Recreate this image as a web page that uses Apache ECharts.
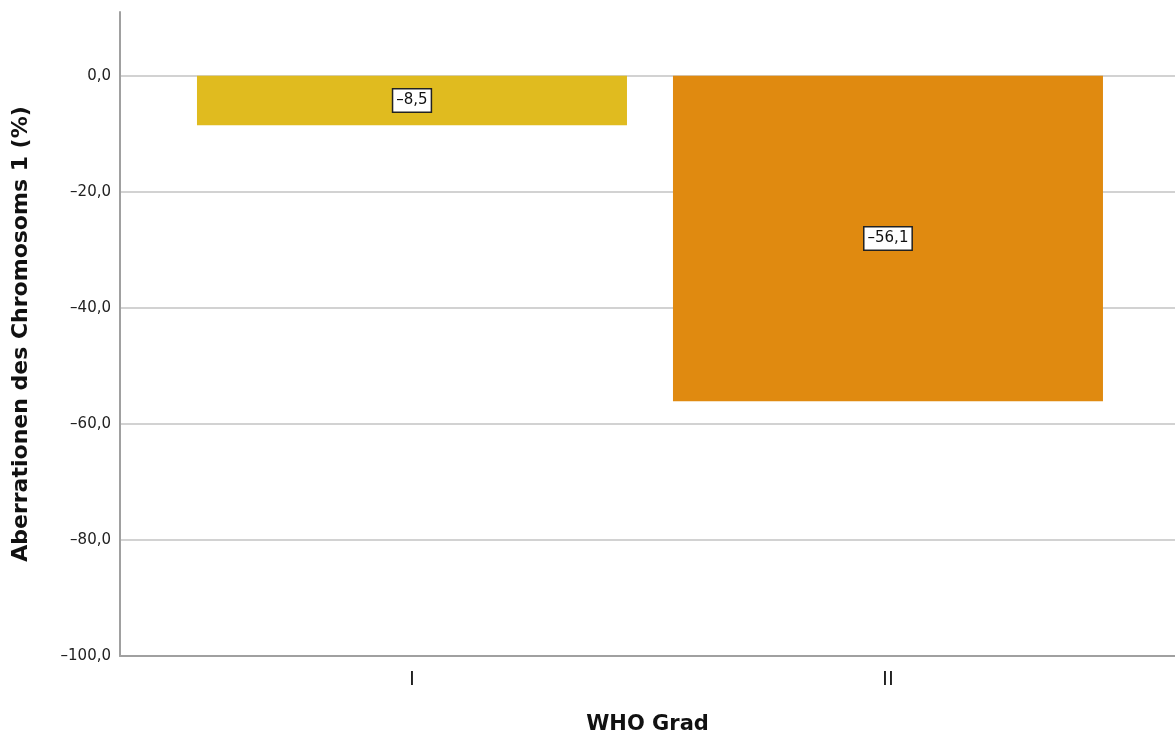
<!DOCTYPE html>
<html>
<head>
<meta charset="utf-8">
<script src="https://cdn.jsdelivr.net/npm/echarts@6/dist/echarts.min.js"></script>
<style>
  html, body { margin: 0; padding: 0; background: #fff; }
  #chart { width: 1175px; height: 738px; }
</style>
</head>
<body>
<div id="chart"></div>
<script>
// WHO grade categories and mean chromosome 1 aberrations (%)
const categories = ['I', 'II'];
const values = [-8.5, -56.1];
const barColors = ['#E0BB1F', '#E08A10'];
const yTicks = [-100, -80, -60, -40, -20, 0];

const fmt = v => v.toFixed(1).replace('.', ',').replace('-', '\u2013');

const chart = echarts.init(document.getElementById('chart'));
const positions = categories.map((c, i) => i + 1);

chart.setOption({
  animation: false,
  backgroundColor: '#ffffff',
  grid: { left: 120, right: 0, top: 12, bottom: 82, outerBoundsMode: 'none', containLabel: false },
  xAxis: {
    type: 'value',
    min: 0.3866,
    max: 2.603,
    name: 'WHO Grad',
    nameLocation: 'middle',
    nameGap: 58,
    nameTextStyle: { fontFamily: 'DejaVu Sans', fontWeight: 'bold', fontSize: 21, color: '#111' },
    axisLine: { show: true, onZero: false, lineStyle: { color: '#a0a0a0', width: 2 } },
    axisTick: { show: false },
    splitLine: { show: false },
    axisLabel: {
      customValues: positions,
      formatter: v => categories[Math.round(v) - 1] || '',
      fontFamily: 'DejaVu Sans',
      fontSize: 20,
      color: '#222',
      margin: 14
    }
  },
  yAxis: {
    type: 'value',
    min: yTicks[0],
    max: 11,
    interval: 20,
    name: 'Aberrationen des Chromosoms 1 (%)',
    nameLocation: 'middle',
    nameGap: 88,
    nameTextStyle: { fontFamily: 'DejaVu Sans', fontWeight: 'bold', fontSize: 22, color: '#111' },
    axisLine: { show: true, lineStyle: { color: '#a0a0a0', width: 2 } },
    axisTick: { show: false },
    axisLabel: {
      showMaxLabel: false,
      formatter: v => (yTicks.indexOf(v) >= 0 ? fmt(v) : ''),
      fontFamily: 'DejaVu Sans',
      fontSize: 15,
      color: '#222',
      margin: 9
    },
    splitLine: { show: true, showMaxLine: false, lineStyle: { color: '#d2d2d2', width: 2 } }
  },
  series: [{
    type: 'bar',
    barWidth: 430,
    data: values.map((v, i) => ({
      value: [positions[i], v],
      itemStyle: { color: barColors[i] }
    })),
    label: {
      show: true,
      position: 'inside',
      formatter: p => fmt(p.value[1]),
      fontFamily: 'DejaVu Sans',
      fontSize: 15,
      color: '#111',
      backgroundColor: '#ffffff',
      borderColor: '#222',
      borderWidth: 1.5,
      padding: [4, 3, 3, 3]
    }
  }]
});
</script>
</body>
</html>
